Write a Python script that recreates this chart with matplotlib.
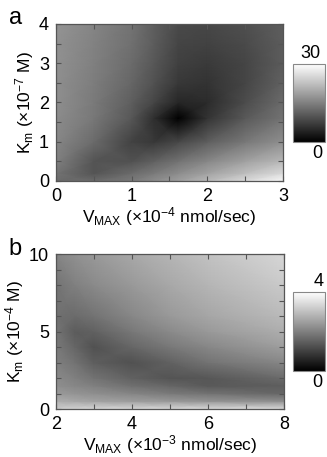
import numpy as np
import matplotlib
matplotlib.use("Agg")
import matplotlib.pyplot as plt

plt.rcParams['font.family'] = ['Liberation Sans', 'DejaVu Sans']
plt.rcParams['mathtext.fontset'] = 'custom'
plt.rcParams['mathtext.rm'] = 'Liberation Sans'
plt.rcParams['mathtext.it'] = 'Liberation Sans'

# Panel a: error surface, Vmax (x1e-4 nmol/sec) vs Km (x1e-7 M)
vmax_a = [0, 0.5, 1.0, 1.3, 1.62, 2.0, 2.5, 3.0]
km_a = [0, 0.2, 0.5, 1.0, 1.6, 2.0, 2.5, 3.0, 3.5, 4.0]
err_a = [
    [12.6, 12.6, 14.4, 16.5, 18.6, 21.6, 25.5, 29.1],
    [13.5, 9.9, 12.6, 14.4, 16.5, 18.9, 22.2, 25.5],
    [15.0, 9.9, 9.6, 11.4, 13.5, 15.9, 18.9, 21.6],
    [15.9, 12.6, 7.8, 6.6, 8.4, 11.1, 14.1, 16.8],
    [16.5, 14.1, 10.2, 5.4, 0.0, 6.0, 10.5, 13.5],
    [16.8, 14.4, 11.1, 8.1, 4.5, 5.1, 9.0, 12.6],
    [16.8, 14.7, 12.0, 9.6, 6.6, 6.0, 8.1, 11.4],
    [17.1, 15.0, 12.6, 10.2, 7.5, 6.9, 8.1, 10.8],
    [17.1, 15.3, 13.2, 10.8, 8.1, 7.8, 8.7, 10.8],
    [17.4, 15.6, 13.5, 11.1, 8.7, 8.4, 9.3, 11.1],
]

# Panel b: error surface, Vmax (x1e-3 nmol/sec) vs Km (x1e-4 M)
vmax_b = [2, 2.5, 3, 4, 5, 6, 8]
km_b = [0, 0.5, 1, 1.5, 2, 3, 4, 5, 6, 8, 10]
err_b = [
    [3.20, 3.32, 3.36, 3.40, 3.40, 3.44, 3.44],
    [2.72, 2.64, 2.56, 2.48, 2.40, 2.32, 2.24],
    [2.40, 2.32, 2.24, 2.08, 1.92, 1.80, 1.60],
    [2.24, 2.12, 2.00, 1.76, 1.60, 1.40, 1.48],
    [2.16, 2.00, 1.80, 1.52, 1.32, 1.36, 1.68],
    [2.00, 1.80, 1.48, 1.28, 1.52, 1.80, 2.12],
    [1.92, 1.60, 1.28, 1.60, 1.88, 2.12, 2.48],
    [1.84, 1.44, 1.52, 1.88, 2.16, 2.40, 2.72],
    [1.76, 1.68, 1.80, 2.12, 2.40, 2.60, 2.92],
    [1.80, 2.00, 2.16, 2.40, 2.64, 2.84, 3.16],
    [2.08, 2.28, 2.40, 2.64, 2.84, 3.04, 3.36],
]

fig = plt.figure(figsize=(3.27, 4.57), dpi=100)

panels = [
    dict(x=vmax_a, y=km_a, z=err_a, vmax=30, pos=[0.171, 0.604, 0.694, 0.3435],
         cpos=[0.896, 0.689, 0.098, 0.171], letter='a', ly=1.04, top='30', tx=0.55,
         xlim=(0, 3), ylim=(0, 4), xmaj=1, xmin=0.5, ymaj=1, ymin=0.5,
         xlabel=r'V$_\mathregular{MAX}$ (×10$^\mathregular{-4}$ nmol/sec)',
         ylabel=r'K$_\mathregular{m}$ (×10$^\mathregular{-7}$ M)'),
    dict(x=vmax_b, y=km_b, z=err_b, vmax=4, pos=[0.171, 0.105, 0.697, 0.339],
         cpos=[0.896, 0.188, 0.098, 0.173], letter='b', ly=1.03, top='4', tx=0.8,
         xlim=(2, 8), ylim=(0, 10), xmaj=2, xmin=1, ymaj=5, ymin=1,
         xlabel=r'V$_\mathregular{MAX}$ (×10$^\mathregular{-3}$ nmol/sec)',
         ylabel=r'K$_\mathregular{m}$ (×10$^\mathregular{-4}$ M)'),
]

for p in panels:
    ax = fig.add_axes(p['pos'])
    mesh = ax.pcolormesh(p['x'], p['y'], np.array(p['z']), shading='gouraud',
                         cmap='gray', vmin=0, vmax=p['vmax'])
    ax.set_xlim(p['xlim'])
    ax.set_ylim(p['ylim'])
    ax.xaxis.set_major_locator(plt.MultipleLocator(p['xmaj']))
    ax.xaxis.set_minor_locator(plt.MultipleLocator(p['xmin']))
    ax.yaxis.set_major_locator(plt.MultipleLocator(p['ymaj']))
    ax.yaxis.set_minor_locator(plt.MultipleLocator(p['ymin']))
    ax.tick_params(which='both', direction='in', top=True, right=True,
                   length=3.5, width=0.8, color='#555555', labelsize=13)
    ax.tick_params(axis='x', pad=5)
    ax.tick_params(axis='y', pad=5)
    for s in ax.spines.values():
        s.set_color('#555555')
        s.set_linewidth(0.9)
    ax.set_xlabel(p['xlabel'], fontsize=12.5, labelpad=0)
    ax.set_ylabel(p['ylabel'], fontsize=12.5, labelpad=2)
    ax.text(-0.18, p['ly'], p['letter'], transform=ax.transAxes, fontsize=17,
            ha='center', va='center')

    cax = fig.add_axes(p['cpos'])
    cb = fig.colorbar(mesh, cax=cax)
    cb.set_ticks([])
    cb.outline.set_edgecolor('#888888')
    cax.text(p['tx'], 1.03, p['top'], transform=cax.transAxes, fontsize=13,
             ha='center', va='bottom')
    cax.text(0.75, -0.04, '0', transform=cax.transAxes, fontsize=13,
             ha='center', va='top')

fig.savefig('out.png', dpi=100)
